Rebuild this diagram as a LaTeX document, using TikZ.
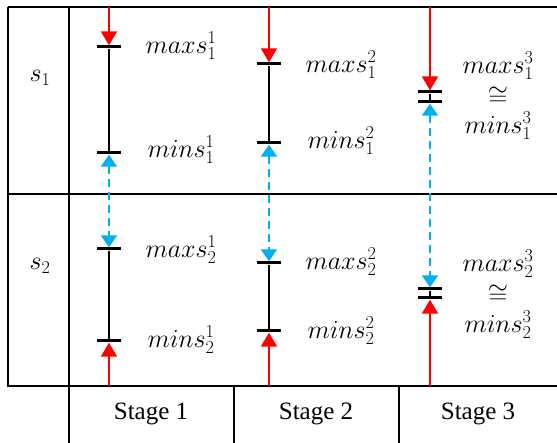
\RequirePackage{fix-cm}
\documentclass[tikz,border=0pt]{standalone}
\usepackage{fontspec}
\setmainfont{Liberation Serif}
\usepackage{tikz}
\usetikzlibrary{arrows.meta, positioning}
\definecolor{myred}{RGB}{255,0,0}
\definecolor{myblue}{RGB}{0,176,240}
\tikzset{
  grid/.style={line width=1.3pt, color=black},
  tickmark/.style={rectangle, fill=black, minimum width=24pt,
    minimum height=3pt, inner sep=0pt},
  bar/.style={line width=2.4pt, color=black},
  redarrow/.style={-{Triangle[length=14pt,width=16pt]}, line width=2pt,
    color=myred},
  bluearrow/.style={{Triangle[length=12pt,width=16pt]}-{Triangle[length=12pt,width=16pt]},
    line width=2pt, color=myblue, dash pattern=on 8pt off 5pt},
  lbl/.style={font=\fontsize{26}{31}\selectfont, inner sep=0pt},
  stagelbl/.style={font=\fontsize{25}{28}\selectfont}
}

\begin{document}
\begin{tikzpicture}[x=1pt, y=-1pt]
  \useasboundingbox (0,0) rectangle (557,443);

  % table
  \draw[grid] (8,7) -- (557,7);
  \draw[grid] (8,194) -- (557,194);
  \draw[grid] (8,7) -- (8,386) -- (557,386);
  \draw[grid] (69,7) -- (69,443);
  \draw[grid] (234,386) -- (234,443);
  \draw[grid] (399,386) -- (399,443);

  % row and column labels
  \node[lbl] (s1) at (40,78) {$s_1$};
  \node[lbl] (s2) at (40,266) {$s_2$};
  \node[stagelbl] (st1) at (151,414) {Stage 1};
  \node[stagelbl] (st2) at (316,414) {Stage 2};
  \node[stagelbl] (st3) at (478,414) {Stage 3};

  % free ends of the red arrows
  \coordinate (top1) at (109,7);
  \coordinate (top2) at (269,7);
  \coordinate (top3) at (430,7);
  \coordinate (bot1) at (109,386);
  \coordinate (bot2) at (269,386);
  \coordinate (bot3) at (430,386);

  % ticks
  \node[tickmark] (mx11) at (109,47) {};
  \node[tickmark] (mn11) at (109,153) {};
  \node[tickmark] (mx21) at (109,249) {};
  \node[tickmark] (mn21) at (109,341) {};
  \node[tickmark] (mx12) at (269,64) {};
  \node[tickmark] (mn12) at (269,143) {};
  \node[tickmark] (mx22) at (269,263) {};
  \node[tickmark] (mn22) at (269,331) {};
  \node[tickmark] (mx13) at (430,92) {};
  \node[tickmark] (mn13) at (430,102) {};
  \node[tickmark] (mx23) at (430,289) {};
  \node[tickmark] (mn23) at (430,298) {};

  % ranges
  \draw[bar] (mx11) -- (mn11);
  \draw[bar] (mx21) -- (mn21);
  \draw[bar] (mx12) -- (mn12);
  \draw[bar] (mx22) -- (mn22);
  \draw[bar] (mx13) -- (mn13);
  \draw[bar] (mx23) -- (mn23);

  % arrows
  \draw[redarrow] (top1) -- (mx11.north);
  \draw[redarrow] (top2) -- (mx12.north);
  \draw[redarrow] (top3) -- (mx13.north);
  \draw[redarrow] (bot1) -- (mn21.south);
  \draw[redarrow] (bot2) -- (mn22.south);
  \draw[redarrow] (bot3) -- (mn23.south);
  \draw[bluearrow] (mn11.south) -- (mx21.north);
  \draw[bluearrow] (mn12.south) -- (mx22.north);
  \draw[bluearrow] (mn13.south) -- (mx23.north);

  % bounds
  \node[lbl] (lmx11) at (181,46) {$maxs_1^1$};
  \node[lbl] (lmn11) at (181,150) {$mins_1^1$};
  \node[lbl] (lmx21) at (181,250) {$maxs_2^1$};
  \node[lbl] (lmn21) at (181,340) {$mins_2^1$};
  \node[lbl] (lmx12) at (341,65) {$maxs_1^2$};
  \node[lbl] (lmn12) at (341,141) {$mins_1^2$};
  \node[lbl] (lmx22) at (341,262) {$maxs_2^2$};
  \node[lbl] (lmn22) at (341,331) {$mins_2^2$};
  \node[lbl] (lmx13) at (498,66) {$maxs_1^3$};
  \node[lbl] (eq13) at (498,96) {$\cong$};
  \node[lbl] (lmn13) at (498,126) {$mins_1^3$};
  \node[lbl] (lmx23) at (498,264) {$maxs_2^3$};
  \node[lbl] (eq23) at (498,294) {$\cong$};
  \node[lbl] (lmn23) at (498,325) {$mins_2^3$};
\end{tikzpicture}
\end{document}
